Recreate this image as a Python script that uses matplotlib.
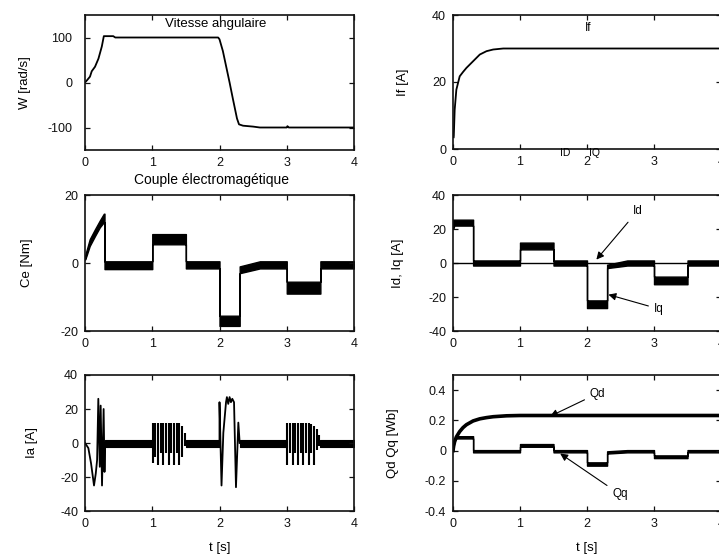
import matplotlib
matplotlib.use('Agg')
import matplotlib.pyplot as plt
import numpy as np

plt.rcParams['font.family'] = ['Liberation Sans', 'DejaVu Sans']
plt.rcParams['axes.unicode_minus'] = False

# ---------------- data ----------------
t_ticks = [0, 1, 2, 3, 4]

# angular speed W [rad/s]
W_t = [0, 0.03, 0.074, 0.1, 0.149, 0.2, 0.25, 0.28, 0.3, 0.42, 0.45, 1.98, 2.0,
       2.05, 2.1, 2.15, 2.2, 2.26, 2.29, 2.35, 2.5, 2.6, 3.0, 3.01, 3.03, 4.0]
W_v = [0, 5, 13, 25, 35, 53, 80, 103, 103, 103, 100, 100, 96,
       70, 35, 0, -37, -80, -93, -96, -98, -100, -100, -97, -100, -100]

# field current If [A]
If_t = [0.01, 0.012, 0.025, 0.05, 0.1, 0.15, 0.2, 0.3, 0.4, 0.5, 0.6, 0.75, 1.0, 4.0]
If_v = [3.5, 4, 11.7, 17.7, 21.7, 23, 24.2, 26.2, 28.2, 29.2, 29.7, 30, 30, 30]

# electromagnetic torque Ce [Nm] : noisy band (upper / lower envelope)
Ce_t = [0, 0.02, 0.07, 0.15, 0.22, 0.28, 0.29, 0.29, 0.35, 1.0, 1.0, 1.5, 1.5,
        2.0, 2.0, 2.3, 2.3, 2.6, 3.0, 3.0, 3.5, 3.5, 4.0]
Ce_hi = [2, 3.5, 7, 10, 12.5, 14.5, 14.5, 0.5, 0.5, 0.5, 8.5, 8.5, 0.5,
         0.5, -15.5, -15.5, -1, 0.5, 0.5, -5.5, -5.5, 0.5, 0.5]
Ce_lo = [1, 2, 5, 8, 10.5, 12, 12, -1.8, -1.8, -1.8, 5.5, 5.5, -1.6,
         -1.6, -18.5, -18.5, -3, -1.6, -1.6, -9, -9, -1.6, -1.6]

# Id, Iq [A]
Iq_t = [0, 0.02, 0.3, 0.3, 1.0, 1.0, 1.5, 1.5, 2.0, 2.0, 2.3, 2.3, 2.6, 3.0, 3.0, 3.5, 3.5, 4.0]
Iq_hi = [25.5, 25.5, 25.5, 1.5, 1.5, 12, 12, 1.5, 1.5, -22, -22, -1, 1.5, 1.5, -8, -8, 1.5, 1.5]
Iq_lo = [20, 22, 22, -1.5, -1.5, 8, 8, -1.5, -1.5, -26.5, -26.5, -3, -1.5, -1.5, -12.5, -12.5, -1.5, -1.5]
Id_t = [0, 4.0]
Id_v = [0, 0]

# phase current Ia [A]
Ia_start_t = [0, 0.05, 0.09, 0.134, 0.16, 0.18, 0.198, 0.22, 0.233, 0.253, 0.277, 0.29, 0.3]
Ia_start_v = [0, -3, -12, -25, -18, -10, 26, -14, 22, -25, 20, -17, 0]
Ia_step1_t = [1.006, 1.046, 1.085, 1.125, 1.165, 1.204, 1.244, 1.284, 1.323, 1.363, 1.403, 1.442, 1.482]
Ia_step1_hi = [12, 12, 12, 12, 12, 12, 12, 12, 12, 12, 12, 10, 6]
Ia_step1_lo = [-12, -8, -13, -6, -13, -6, -13, -6, -13, -6, -13, -8, -2]
Ia_rev_t = [2.0, 2.0, 2.03, 2.057, 2.097, 2.11, 2.13, 2.15, 2.17, 2.19, 2.216, 2.245, 2.28, 2.3]
Ia_rev_v = [0, 24, -25, 6, 24, 27, 23, 27, 24, 26, 24, -26, 12, 0]
Ia_step2_t = [3.008, 3.048, 3.087, 3.127, 3.167, 3.206, 3.246, 3.286, 3.325, 3.365, 3.405, 3.444, 3.484]
Ia_step2_hi = [12, 12, 12, 12, 12, 12, 12, 12, 12, 11, 10, 8, 5]
Ia_step2_lo = [-13, -6, -13, -6, -13, -6, -13, -6, -13, -6, -13, -4, -2]
Ia_quiet_start = [0.3, 1.5, 2.3, 3.5]
Ia_quiet_end = [1.0, 2.0, 3.0, 4.0]
Ia_quiet_hi = 1.8
Ia_quiet_lo = -2.2

# fluxes Qd, Qq [Wb]
Qd_t = [0, 0.01, 0.025, 0.05, 0.1, 0.15, 0.2, 0.3, 0.4, 0.5, 0.6, 0.8, 1.0, 4.0]
Qd_v = [0, 0.03, 0.06, 0.09, 0.126, 0.152, 0.171, 0.196, 0.21, 0.218, 0.224, 0.23, 0.232, 0.232]
Qq_t = [0, 0.02, 0.05, 0.3, 0.3, 1.0, 1.0, 1.5, 1.5, 2.0, 2.0, 2.3, 2.3, 2.6, 3.0, 3.0, 3.5, 3.5, 4.0]
Qq_hi = [0.02, 0.07, 0.095, 0.095, 0.003, 0.003, 0.043, 0.043, 0.003, 0.003, -0.078, -0.078,
         -0.005, 0.003, 0.003, -0.032, -0.032, 0.003, 0.003]
Qq_lo = [0.0, 0.06, 0.08, 0.08, -0.012, -0.012, 0.025, 0.025, -0.012, -0.012, -0.1, -0.1,
         -0.02, -0.012, -0.012, -0.05, -0.05, -0.012, -0.012]

# ---------------- figure ----------------
FW, FH = 719, 559
fig = plt.figure(figsize=(FW / 100, FH / 100), dpi=100)


def pos(x0, w, top, bottom):
    return [x0 / FW, 1 - bottom / FH, w / FW, (bottom - top) / FH]


ax_w = fig.add_axes(pos(85, 269, 15, 150))
ax_if = fig.add_axes(pos(453, 268, 15, 149))
ax_ce = fig.add_axes(pos(85, 269, 195, 331))
ax_idq = fig.add_axes(pos(453, 268, 195, 331))
ax_ia = fig.add_axes(pos(85, 269, 375, 511))
ax_q = fig.add_axes(pos(453, 268, 375, 511))

for ax in [ax_w, ax_if, ax_ce, ax_idq, ax_ia, ax_q]:
    ax.set_xlim(0, 4)
    ax.set_xticks(t_ticks)
    ax.tick_params(direction='in', top=True, right=True, length=3.5, width=0.9,
                   labelsize=9, pad=5, colors='#111111')
    for s in ax.spines.values():
        s.set_linewidth(1.2)
        s.set_color('#111111')

LW = 1.3
K = 'black'

# W
ax_w.plot(W_t, W_v, color=K, lw=LW)
ax_w.set_ylim(-150, 150)
ax_w.set_yticks([-100, 0, 100])
ax_w.tick_params(axis='y', pad=9)
ax_w.text(0.486, 0.93, 'Vitesse angulaire', transform=ax_w.transAxes,
          ha='center', va='center', fontsize=9.5)

# If
ax_if.plot(If_t, If_v, color=K, lw=LW)
ax_if.set_ylim(0, 40)
ax_if.set_yticks([0, 20, 40])
ax_if.text(0.505, 0.90, 'If', transform=ax_if.transAxes, ha='center', va='center', fontsize=8.5)

# Ce
ax_ce.fill_between(Ce_t, Ce_lo, Ce_hi, facecolor=K, edgecolor=K, lw=1.0)
ax_ce.set_ylim(-20, 20)
ax_ce.set_yticks([-20, 0, 20])

# Id, Iq
ax_idq.fill_between(Iq_t, Iq_lo, Iq_hi, facecolor=K, edgecolor=K, lw=1.0)
ax_idq.plot(Id_t, Id_v, color=K, lw=1.0)
ax_idq.set_ylim(-40, 40)
ax_idq.set_yticks([-40, -20, 0, 20, 40])
arrow = dict(arrowstyle='-|>', color=K, lw=0.8, mutation_scale=11, shrinkA=2, shrinkB=0)
ax_idq.annotate('Id', xy=(2.14, 2), xytext=(2.75, 30.4), ha='center', va='center',
                fontsize=8.5, arrowprops=arrow)
ax_idq.annotate('Iq', xy=(2.32, -18.6), xytext=(3.07, -27), ha='center', va='center',
                fontsize=8.5, arrowprops=arrow)

# Ia
ax_ia.plot(Ia_start_t, Ia_start_v, color=K, lw=LW)
ax_ia.vlines(Ia_step1_t, Ia_step1_lo, Ia_step1_hi, color=K, lw=1.5)
ax_ia.plot(Ia_rev_t, Ia_rev_v, color=K, lw=LW)
ax_ia.vlines(Ia_step2_t, Ia_step2_lo, Ia_step2_hi, color=K, lw=1.5)
for s, e in zip(Ia_quiet_start, Ia_quiet_end):
    ax_ia.fill_between([s, e], [Ia_quiet_lo, Ia_quiet_lo], [Ia_quiet_hi, Ia_quiet_hi],
                       facecolor=K, edgecolor=K, lw=0.8)
ax_ia.set_ylim(-40, 40)
ax_ia.set_yticks([-40, -20, 0, 20, 40])

# Qd, Qq
ax_q.plot(Qd_t, Qd_v, color=K, lw=2.6)
ax_q.fill_between(Qq_t, Qq_lo, Qq_hi, facecolor=K, edgecolor=K, lw=1.0)
ax_q.set_ylim(-0.4, 0.5)
ax_q.set_yticks([-0.4, -0.2, 0, 0.2, 0.4])
ax_q.set_yticklabels(['-0.4', '-0.2', '0', '0.2', '0.4'])
ax_q.annotate('Qd', xy=(1.45, 0.227), xytext=(2.157, 0.377), ha='center', va='center',
              fontsize=8.5, arrowprops=arrow)
ax_q.annotate('Qq', xy=(1.6, -0.02), xytext=(2.49, -0.289), ha='center', va='center',
              fontsize=8.5, arrowprops=arrow)

# axis labels
ylabels = [(ax_w, 'W [rad/s]', -0.223), (ax_ce, 'Ce [Nm]', -0.216), (ax_ia, 'Ia [A]', -0.197),
           (ax_if, 'If [A]', -0.187), (ax_idq, 'Id, Iq [A]', -0.205), (ax_q, 'Qd Qq [Wb]', -0.224)]
for ax, lab, xc in ylabels:
    ax.set_ylabel(lab, fontsize=9.5, va='center')
    ax.yaxis.set_label_coords(xc, 0.5)

for ax in [ax_ia, ax_q]:
    ax.set_xlabel('t [s]', fontsize=9.5, va='center')
    ax.xaxis.set_label_coords(0.5, -0.274)

fig.text(211.7 / FW, 1 - 180 / FH, 'Couple électromagétique', ha='center', va='center', fontsize=10)
fig.text(565 / FW, 1 - 153 / FH, 'ID', ha='center', va='center', fontsize=7.5)
fig.text(595 / FW, 1 - 153 / FH, 'IQ', ha='center', va='center', fontsize=7.5)

fig.savefig('out.png', dpi=100)
